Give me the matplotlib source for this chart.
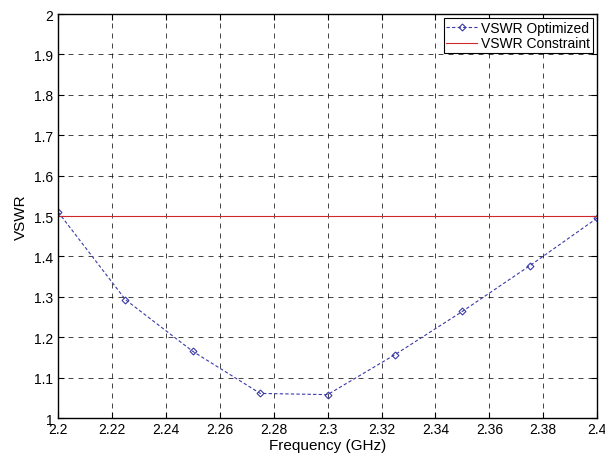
import numpy as np
import matplotlib
matplotlib.use('Agg')
import matplotlib.pyplot as plt

plt.rcParams['font.family'] = ['Liberation Sans', 'DejaVu Sans']

freq = [2.2, 2.225, 2.25, 2.275, 2.3, 2.325, 2.35, 2.375, 2.4]
vswr_opt = [1.51, 1.293, 1.165, 1.061, 1.058, 1.157, 1.264, 1.377, 1.495]
vswr_limit = 1.5
xticks = np.arange(2.2, 2.4001, 0.02)
yticks = np.arange(1.0, 2.0001, 0.1)

fig = plt.figure(figsize=(6.05, 4.56), dpi=100)
ax = fig.add_axes([0.096, 0.081, 0.891, 0.886])

ax.plot(freq, vswr_opt, '--', color='#3a3aa8', lw=0.8, dashes=(3, 2), marker='D',
        ms=3.5, mfc='none', mec='#3a3aa8', mew=0.8, label='VSWR Optimized')
ax.plot([2.2, 2.4], [vswr_limit, vswr_limit], '-', color='#d02828', lw=0.8,
        label='VSWR Constraint')

ax.set_xlim(2.2, 2.4)
ax.set_ylim(1, 2)
ax.set_xticks(xticks)
ax.set_yticks(yticks)
ax.set_xticklabels(['%g' % round(t, 2) for t in xticks])
ax.set_yticklabels(['%g' % round(t, 1) for t in yticks])
ax.tick_params(direction='in', top=True, right=True, labelsize=10, length=4)
ax.tick_params(axis='x', pad=3)
ax.grid(True, color='black', linestyle=(0, (6, 6)), lw=0.6, alpha=0.85)
for s in ax.spines.values():
    s.set_linewidth(1.0)

ax.set_xlabel('Frequency (GHz)', fontsize=11, labelpad=1)
ax.set_ylabel('VSWR', fontsize=11, labelpad=4)

leg = ax.legend(loc='upper right', fontsize=10, fancybox=False, framealpha=1,
                edgecolor='black', borderaxespad=0.3, handlelength=2.2,
                borderpad=0.2, labelspacing=0.1, handletextpad=0.3)
leg.get_frame().set_linewidth(0.8)

fig.savefig('out.png', dpi=100)
